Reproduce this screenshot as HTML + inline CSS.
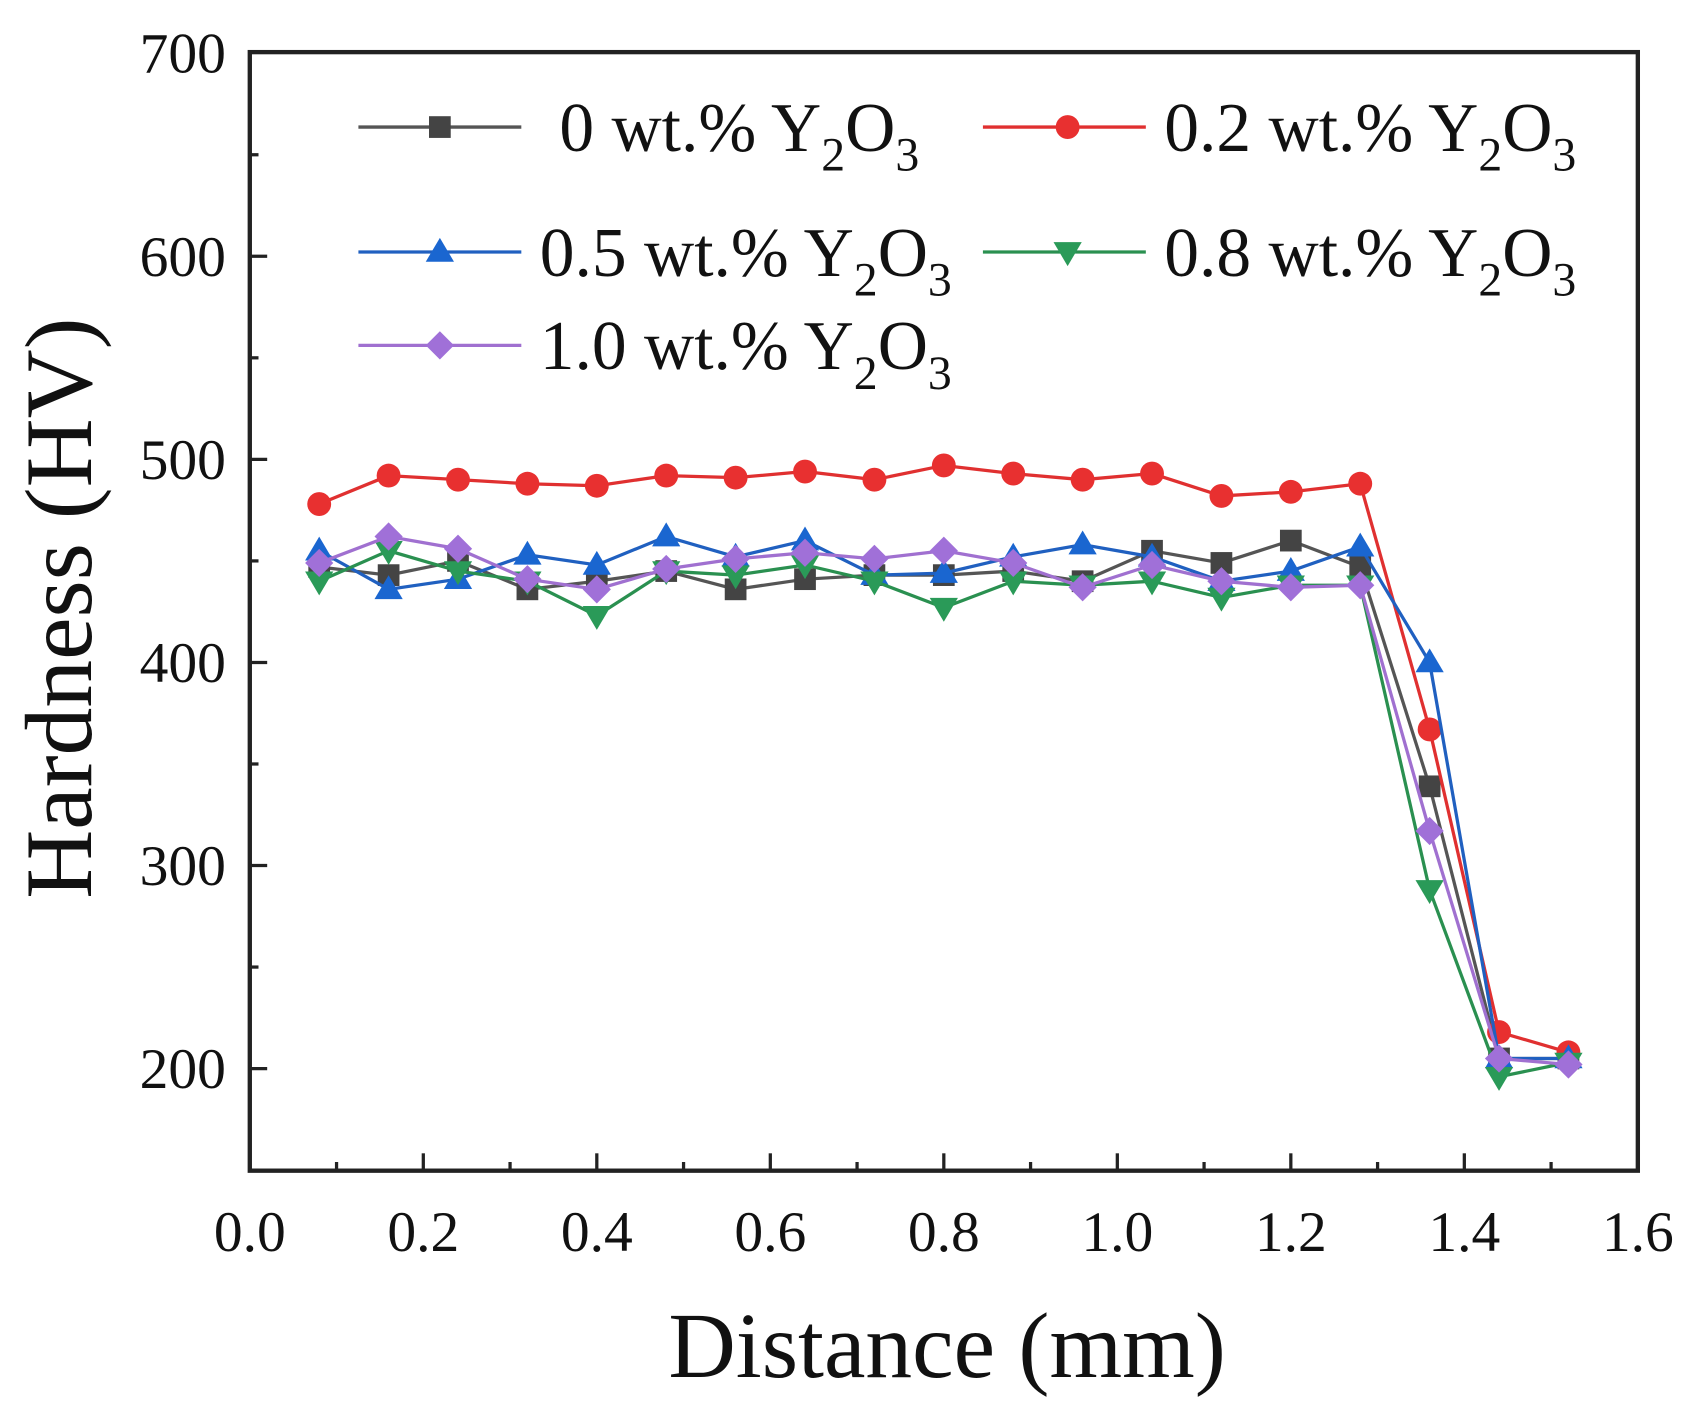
<!DOCTYPE html>
<html><head><style>html,body{margin:0;padding:0;background:#fff}svg{display:block}</style></head>
<body>
<svg width="1703" height="1402" viewBox="0 0 1568 1291" preserveAspectRatio="none" xmlns="http://www.w3.org/2000/svg" font-family="Liberation Serif, serif">
<rect width="1568" height="1291" fill="#fff"/>
<g id="plot"></g>
<rect x="230" y="48" width="1278" height="1030" fill="none" stroke="#222" stroke-width="4"/>
<g id="ticks" stroke="#222" stroke-width="3"></g>
<g font-size="53" fill="#111" text-anchor="end" id="ylab"></g>
<g font-size="53" fill="#111" text-anchor="middle" id="xlab"></g>
<text x="872" y="1268" font-size="86" text-anchor="middle" fill="#111">Distance (mm)</text>
<text transform="translate(84,560) rotate(-90)" font-size="88" text-anchor="middle" fill="#111">Hardness (HV)</text>
<g font-size="64" fill="#111">
<line x1="330" y1="117" x2="480" y2="117" stroke="#555" stroke-width="3"/><rect x="395" y="107" width="20" height="20" fill="#444"/>
<text x="515" y="139">0 wt.% Y<tspan font-size="44" dy="18">2</tspan><tspan dy="-18">O</tspan><tspan font-size="44" dy="18">3</tspan></text>
<line x1="905" y1="117" x2="1055" y2="117" stroke="#e03030" stroke-width="3"/><circle cx="983" cy="117" r="11" fill="#e83030"/>
<text x="1072" y="139">0.2 wt.% Y<tspan font-size="44" dy="18">2</tspan><tspan dy="-18">O</tspan><tspan font-size="44" dy="18">3</tspan></text>
<line x1="330" y1="232" x2="480" y2="232" stroke="#2060c0" stroke-width="3"/><polygon points="405,219 418,241 392,241" fill="#1a66d0"/>
<text x="497" y="254">0.5 wt.% Y<tspan font-size="44" dy="18">2</tspan><tspan dy="-18">O</tspan><tspan font-size="44" dy="18">3</tspan></text>
<line x1="905" y1="232" x2="1055" y2="232" stroke="#2a9050" stroke-width="3"/><polygon points="970,223 996,223 983,245" fill="#2a9a58"/>
<text x="1072" y="254">0.8 wt.% Y<tspan font-size="44" dy="18">2</tspan><tspan dy="-18">O</tspan><tspan font-size="44" dy="18">3</tspan></text>
<line x1="330" y1="318" x2="480" y2="318" stroke="#a070d0" stroke-width="3"/><polygon points="405,305 418,318 405,331 392,318" fill="#a070d8"/>
<text x="497" y="340">1.0 wt.% Y<tspan font-size="44" dy="18">2</tspan><tspan dy="-18">O</tspan><tspan font-size="44" dy="18">3</tspan></text>
</g>
<script>
const ns="http://www.w3.org/2000/svg";
const X=v=>230+v*798.75, Y=v=>984-(v-200)*1.87;
function el(p,t,a){const e=document.createElementNS(ns,t);for(const k in a)e.setAttribute(k,a[k]);p.appendChild(e);return e;}
const tk=document.getElementById('ticks');
for(let i=1;i<16;i++){const L=i%2==0?16:8;el(tk,'line',{x1:X(i/10),x2:X(i/10),y1:1078,y2:1078-L});}
for(let v=150;v<700;v+=50){const L=v%100==0?16:8;el(tk,'line',{x1:230,x2:230+L,y1:Y(v),y2:Y(v)});}
const yl=document.getElementById('ylab');
for(let v=200;v<=700;v+=100){el(yl,'text',{x:208,y:Y(v)+18}).textContent=v;}
const xl=document.getElementById('xlab');
for(let i=0;i<=8;i++){el(xl,'text',{x:X(i*0.2),y:1152}).textContent=(i*0.2).toFixed(1);}
const xs=[];for(let i=1;i<=19;i++)xs.push(i*0.08);
const S=[
{c:'#555',f:'#444',m:'s',d:[447,443,450,436,440,445,436,441,443,443,445,440,455,449,460,447,339,205,205]},
{c:'#e03030',f:'#e83030',m:'c',d:[478,492,490,488,487,492,491,494,490,497,493,490,493,482,484,488,367,218,208]},
{c:'#2060c0',f:'#1a66d0',m:'t',d:[455,436,441,453,448,462,452,460,443,444,452,458,452,440,445,457,400,205,205]},
{c:'#2a9050',f:'#2a9a58',m:'v',d:[440,455,445,440,423,445,443,448,440,427,440,438,440,432,438,438,288,196,203]},
{c:'#a070d0',f:'#a070d8',m:'d',d:[449,462,456,441,436,446,451,454,451,455,449,437,448,440,437,438,317,205,202]}];
const g=document.getElementById('plot');
S.forEach(s=>{el(g,'polyline',{points:s.d.map((v,i)=>X(xs[i])+','+Y(v)).join(' '),fill:'none',stroke:s.c,'stroke-width':3});
s.d.forEach((v,i)=>{const x=X(xs[i]),y=Y(v);
if(s.m=='s')el(g,'rect',{x:x-10,y:y-10,width:20,height:20,fill:s.f});
else if(s.m=='c')el(g,'circle',{cx:x,cy:y,r:11,fill:s.f});
else if(s.m=='t')el(g,'polygon',{points:`${x},${y-13} ${x+13},${y+9} ${x-13},${y+9}`,fill:s.f});
else if(s.m=='v')el(g,'polygon',{points:`${x-13},${y-9} ${x+13},${y-9} ${x},${y+13}`,fill:s.f});
else el(g,'polygon',{points:`${x},${y-13} ${x+13},${y} ${x},${y+13} ${x-13},${y}`,fill:s.f});});});
</script>
</svg>
</body></html>
